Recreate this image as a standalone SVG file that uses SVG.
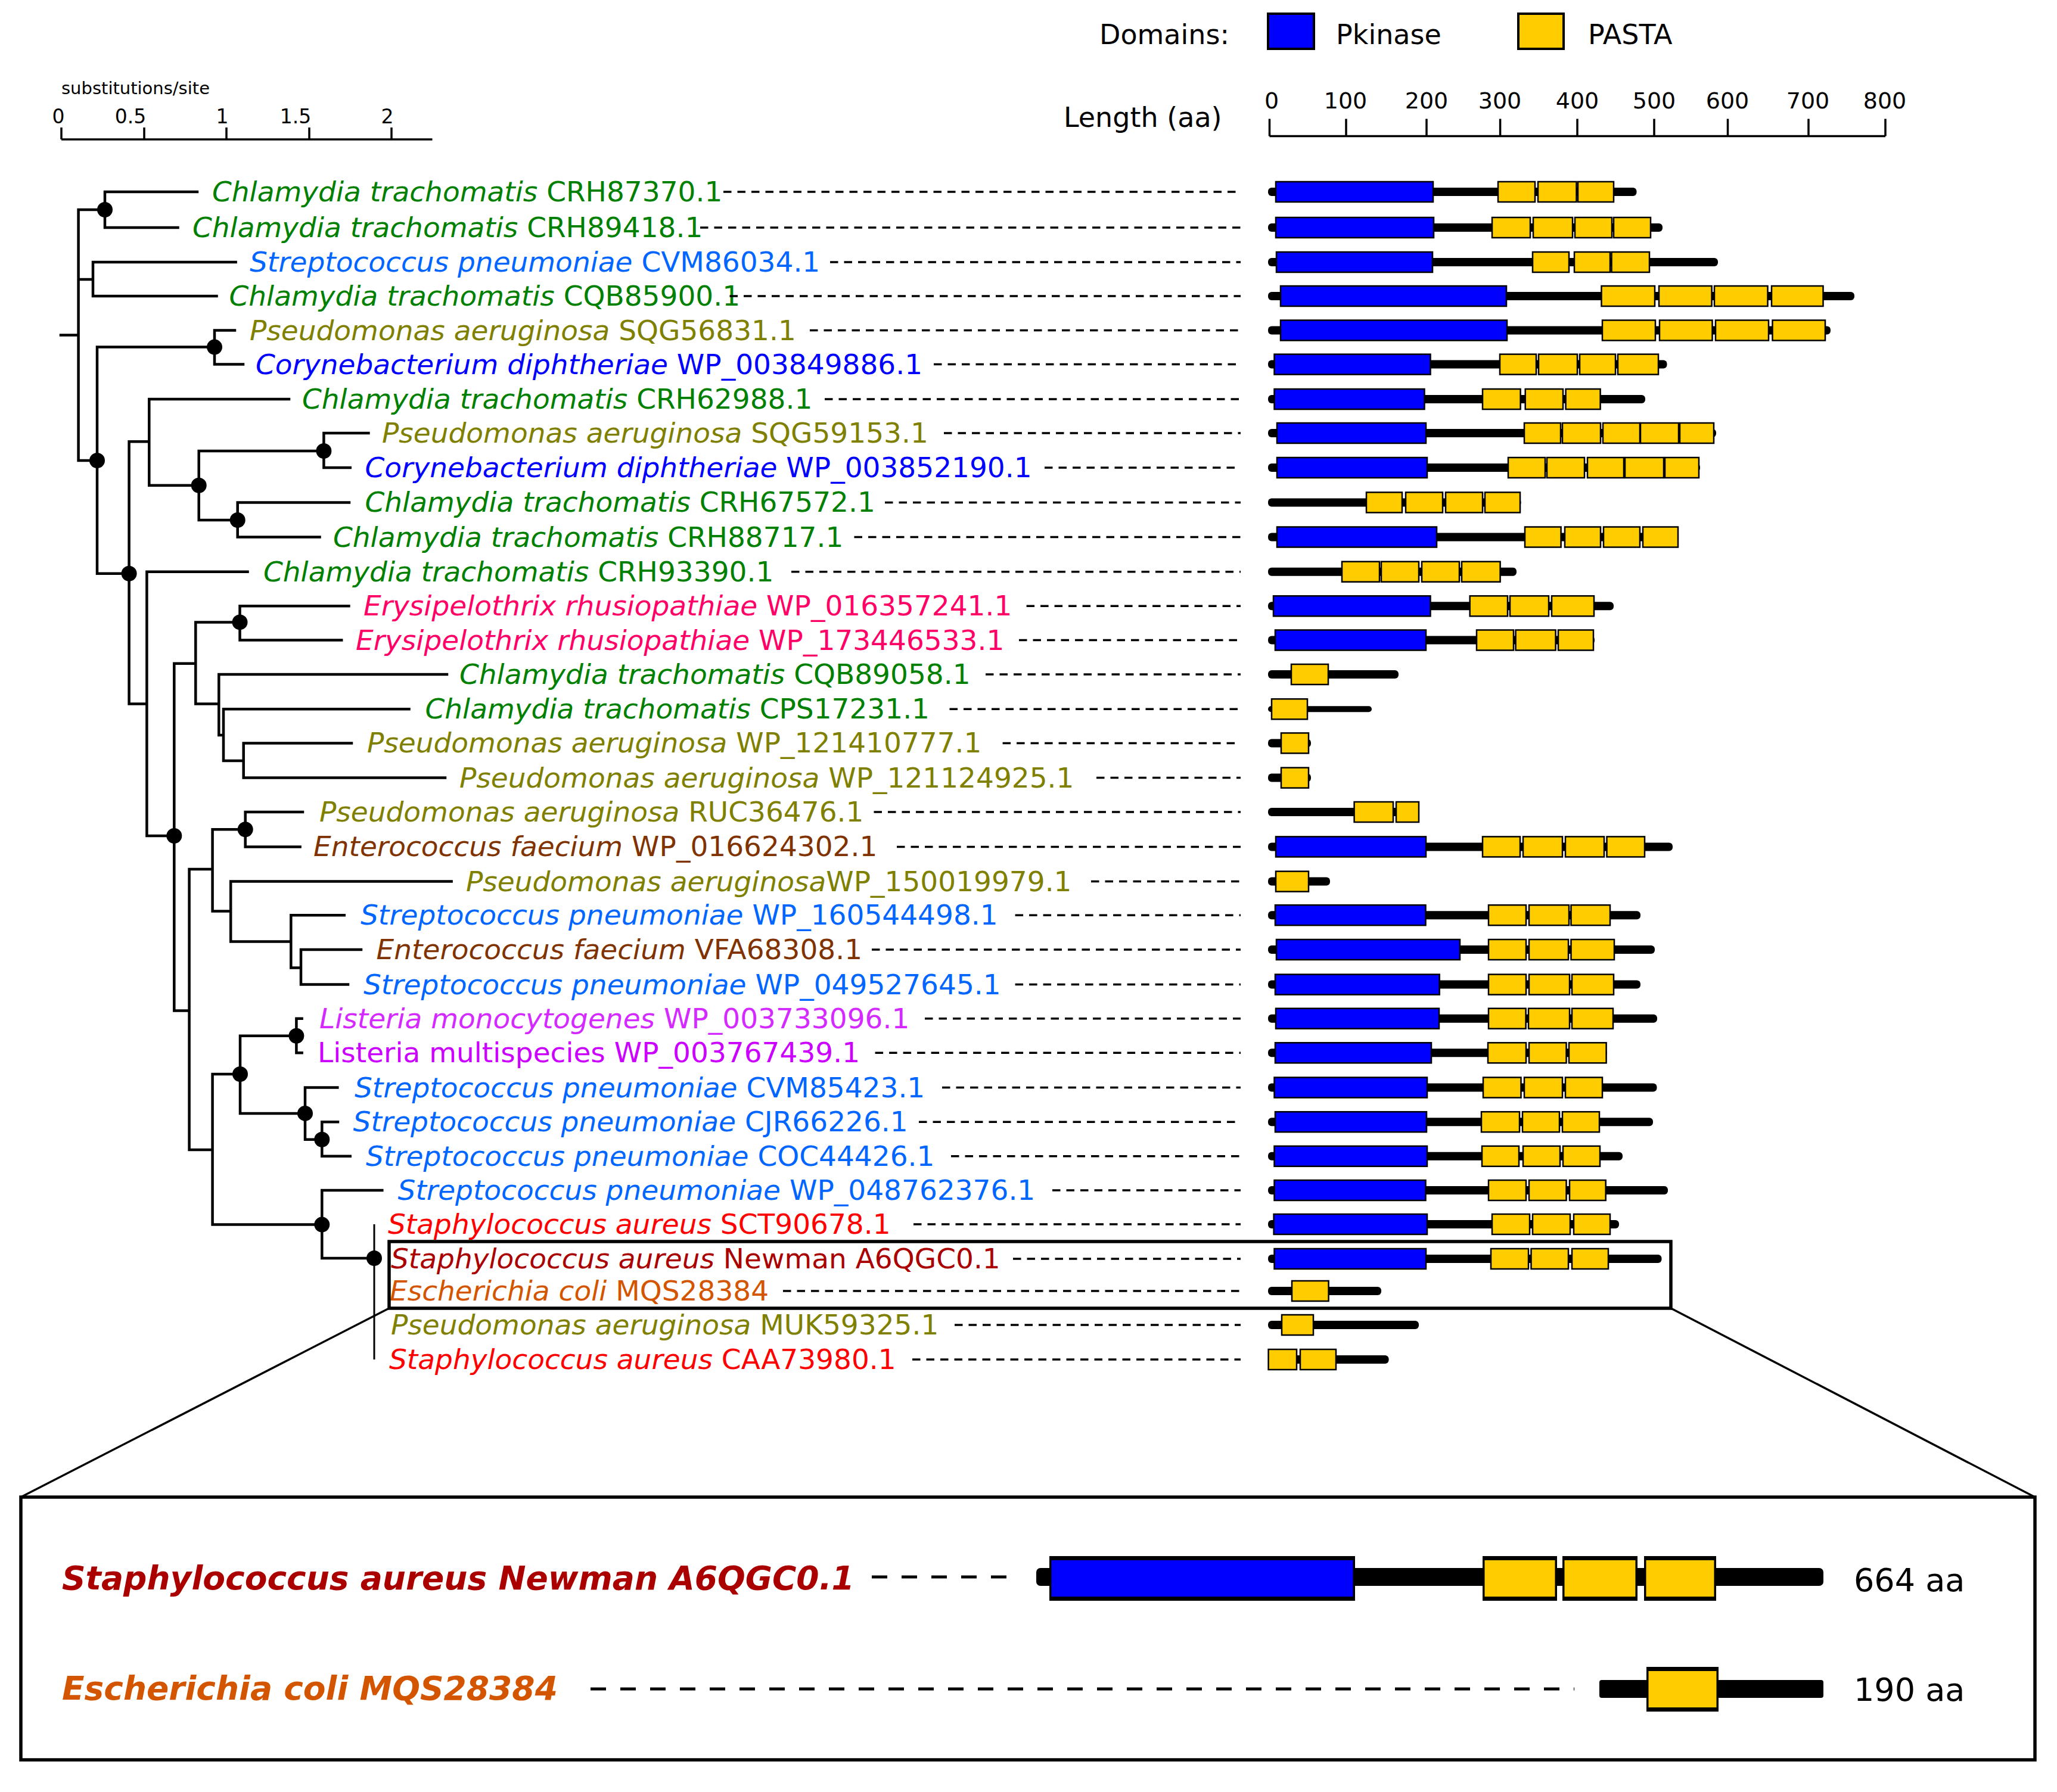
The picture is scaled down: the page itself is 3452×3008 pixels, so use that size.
<svg xmlns="http://www.w3.org/2000/svg" width="3452" height="3008" viewBox="0 0 3452 3008">
<style>
text{font-family:"DejaVu Sans","Liberation Sans",sans-serif}
.l{font-size:47px}
.i{font-style:italic}
.t{fill:none;stroke:#000;stroke-width:4.5;stroke-linecap:square}
.dot{fill:#000}
.d{stroke:#000;stroke-width:3.5;stroke-dasharray:13.5 10}
.b{fill:#000}
.k{fill:#0000ff;stroke:#000;stroke-width:2.5}
.p{fill:#ffcc00;stroke:#000;stroke-width:2.5}
.ax{fill:none;stroke:#000;stroke-width:3.5}
</style>
<rect x="0" y="0" width="3452" height="3008" fill="#fff"/>

<g id="legend">
<text x="1845" y="74" font-size="46">Domains:</text>
<rect x="2128" y="23" width="77" height="59" fill="#0000ff" stroke="#000" stroke-width="4"/>
<text x="2242" y="74" font-size="46">Pkinase</text>
<rect x="2548" y="23" width="76" height="59" fill="#ffcc00" stroke="#000" stroke-width="4"/>
<text x="2665" y="74" font-size="46">PASTA</text>
</g>

<g id="length-axis">
<text x="1785" y="213" font-size="46">Length (aa)</text>
<path class="ax" d="M2130.5 228.6H3164M2130.5 199.5V228.6M2259 199.5V228.6M2394 199.5V228.6M2517.6 199.5V228.6M2647 199.5V228.6M2776 199.5V228.6M2899.5 199.5V228.6M3035 199.5V228.6M3164 199.5V228.6"/>
<g font-size="38" text-anchor="middle">
<text x="2134" y="182">0</text><text x="2258" y="182">100</text><text x="2394" y="182">200</text><text x="2517" y="182">300</text><text x="2647" y="182">400</text><text x="2776" y="182">500</text><text x="2899" y="182">600</text><text x="3034" y="182">700</text><text x="3163" y="182">800</text>
</g>
</g>

<g id="tree-scale">
<text x="103" y="158" font-size="29">substitutions/site</text>
<path class="ax" d="M103 234H725.5M103 214V234M242 214V234M380 214V234M519 214V234M657 214V234"/>
<g font-size="33" text-anchor="middle">
<text x="98" y="207">0</text><text x="219" y="207">0.5</text><text x="373" y="207">1</text><text x="496" y="207">1.5</text><text x="650" y="207">2</text>
</g>
</g>

<g id="connectors">
<path class="t" d="M102 562.5H131.6M131.6 352V773
M131.6 352H176M176 322H176V382M176 322H331M176 382H298.5
M131.6 469H156M156 440V497M156 440H395.6M156 497H363.5
M131.6 773H163M163 582.6V962.8
M163 582.6H360M360 554.5V611.6M360 554.5H394M360 611.6H408
M163 962.8H216.6M216.6 741.3V1181.6
M216.6 741.3H250.3M250.3 670V814.8M250.3 670H485
M250.3 814.8H333.7M333.7 757V873
M333.7 757H543.4M543.4 727V785M543.4 727H618.4M543.4 785H587.7
M333.7 873H398.7M398.7 843.4V901.5M398.7 843.4H586M398.7 901.5H536.5
M216.6 1181.6H246.4M246.4 959.7V1403M246.4 959.7H415.5
M246.4 1403H292.3M292.3 1113.8V1696.4
M292.3 1113.8H328.3M328.3 1044.4V1181.6
M328.3 1044.4H402.5M402.5 1017.3V1074.5M402.5 1017.3H585.4M402.5 1074.5H573.2
M328.3 1181.6H367.3M367.3 1132V1234M367.3 1132H750
M367.3 1234H375M375 1190.3V1277M375 1190.3H686.5
M375 1277H408.7M408.7 1247.4V1305.6M408.7 1247.4H590M408.7 1305.6H747
M292.3 1696.4H317.6M317.6 1459V1930
M317.6 1459H356.6M356.6 1392.3V1529.6
M356.6 1392.3H411.7M411.7 1363V1421.4M411.7 1363H508M411.7 1421.4H503.6
M356.6 1529.6H387.2M387.2 1479.6V1580.6M387.2 1479.6H757.6
M387.2 1580.6H488.3M488.3 1536.2V1624.5M488.3 1536.2H577.8
M488.3 1624.5H505M505 1594V1652.6M505 1594H606M505 1652.6H584
M317.6 1930H356.6M356.6 1803V2055.6
M356.6 1803H403M403 1738.8V1868.9
M403 1738.8H497.4M497.4 1709.7V1767.3M497.4 1709.7H506.6M497.4 1767.3H506.6
M403 1868.9H512M512 1825.5V1912.8M512 1825.5H566.3
M512 1912.8H540.3M540.3 1883.2V1940.8M540.3 1883.2H567M540.3 1940.8H587.7
M356.6 2055.6H540.3M540.3 1998V2112M540.3 1998H641.3
M540.3 2112H628"/>
<path d="M628 2055V2282" fill="none" stroke="#000" stroke-width="3"/>
<g class="dot">
<circle cx="176" cy="352" r="13"/><circle cx="163" cy="773" r="13"/><circle cx="360" cy="582.6" r="13"/><circle cx="216.6" cy="962.8" r="13"/><circle cx="333.7" cy="814.8" r="13"/><circle cx="543.4" cy="757" r="13"/><circle cx="398.7" cy="873" r="13"/><circle cx="292.3" cy="1403" r="13"/><circle cx="402.5" cy="1044.4" r="13"/><circle cx="411.7" cy="1392.3" r="13"/><circle cx="403" cy="1803" r="13"/><circle cx="497.4" cy="1738.8" r="13"/><circle cx="512" cy="1868.9" r="13"/><circle cx="540.3" cy="1912.8" r="13"/><circle cx="540.3" cy="2055.6" r="13"/><circle cx="628" cy="2112" r="13"/>
</g>
<path d="M653 2196L35 2513M2804 2196L3415 2513" fill="none" stroke="#000" stroke-width="3.5"/>
</g>

<g id="t1"><text class="l" x="356" y="338" fill="#008000"><tspan class="i">Chlamydia trachomatis</tspan> CRH87370.1</text><line class="d" x1="1214" y1="322" x2="2082" y2="322"/><rect class="b" x="2128" y="315" width="618.5" height="14" rx="6"/><rect class="k" x="2141" y="305" width="264" height="34"/><rect class="p" x="2514" y="305" width="62" height="34"/><rect class="p" x="2581" y="305" width="64.5" height="34"/><rect class="p" x="2648" y="305" width="60" height="34"/></g>
<g id="t2"><text class="l" x="323" y="398" fill="#008000"><tspan class="i">Chlamydia trachomatis</tspan> CRH89418.1</text><line class="d" x1="1175" y1="382" x2="2082" y2="382"/><rect class="b" x="2128" y="375" width="662" height="14" rx="6"/><rect class="k" x="2141" y="365" width="265" height="34"/><rect class="p" x="2504" y="365" width="64" height="34"/><rect class="p" x="2573" y="365" width="66" height="34"/><rect class="p" x="2643" y="365" width="62" height="34"/><rect class="p" x="2708" y="365" width="62" height="34"/></g>
<g id="t3"><text class="l" x="419" y="456" fill="#0066ff"><tspan class="i">Streptococcus pneumoniae</tspan> CVM86034.1</text><line class="d" x1="1393" y1="440" x2="2082" y2="440"/><rect class="b" x="2128" y="433" width="755" height="14" rx="6"/><rect class="k" x="2142" y="423" width="262" height="34"/><rect class="p" x="2572" y="423" width="61" height="34"/><rect class="p" x="2642" y="423" width="60" height="34"/><rect class="p" x="2704.5" y="423" width="63.5" height="34"/></g>
<g id="t4"><text class="l" x="384.5" y="513" fill="#008000"><tspan class="i">Chlamydia trachomatis</tspan> CQB85900.1</text><line class="d" x1="1224.5" y1="497" x2="2082" y2="497"/><rect class="b" x="2128" y="490" width="984" height="14" rx="6"/><rect class="k" x="2149" y="480" width="379" height="34"/><rect class="p" x="2687.5" y="480" width="89.5" height="34"/><rect class="p" x="2784" y="480" width="88.6" height="34"/><rect class="p" x="2877" y="480" width="89.5" height="34"/><rect class="p" x="2973" y="480" width="86.5" height="34"/></g>
<g id="t5"><text class="l" x="419" y="570.5" fill="#808000"><tspan class="i">Pseudomonas aeruginosa</tspan> SQG56831.1</text><line class="d" x1="1359" y1="554.5" x2="2082" y2="554.5"/><rect class="b" x="2128" y="547.5" width="944" height="14" rx="6"/><rect class="k" x="2149" y="537.5" width="380" height="34"/><rect class="p" x="2689" y="537.5" width="89" height="34"/><rect class="p" x="2785" y="537.5" width="88.5" height="34"/><rect class="p" x="2879" y="537.5" width="89" height="34"/><rect class="p" x="2974.5" y="537.5" width="88.5" height="34"/></g>
<g id="t6"><text class="l" x="429" y="627.6" fill="#0000ff"><tspan class="i">Corynebacterium diphtheriae</tspan> WP_003849886.1</text><line class="d" x1="1567" y1="611.6" x2="2082" y2="611.6"/><rect class="b" x="2128" y="604.6" width="669.5" height="14" rx="6"/><rect class="k" x="2138.5" y="594.6" width="262" height="34"/><rect class="p" x="2517" y="594.6" width="61" height="34"/><rect class="p" x="2582" y="594.6" width="65" height="34"/><rect class="p" x="2651" y="594.6" width="60" height="34"/><rect class="p" x="2715" y="594.6" width="68" height="34"/></g>
<g id="t7"><text class="l" x="507" y="686" fill="#008000"><tspan class="i">Chlamydia trachomatis</tspan> CRH62988.1</text><line class="d" x1="1384" y1="670" x2="2082" y2="670"/><rect class="b" x="2128" y="663" width="633" height="14" rx="6"/><rect class="k" x="2138.5" y="653" width="252" height="34"/><rect class="p" x="2488" y="653" width="63.6" height="34"/><rect class="p" x="2559.7" y="653" width="63.3" height="34"/><rect class="p" x="2627.6" y="653" width="58" height="34"/></g>
<g id="t8"><text class="l" x="641" y="743" fill="#808000"><tspan class="i">Pseudomonas aeruginosa</tspan> SQG59153.1</text><line class="d" x1="1584" y1="727" x2="2082" y2="727"/><rect class="b" x="2128" y="720" width="752" height="14" rx="6"/><rect class="k" x="2143" y="710" width="250" height="34"/><rect class="p" x="2558" y="710" width="61" height="34"/><rect class="p" x="2622" y="710" width="64" height="34"/><rect class="p" x="2690" y="710" width="62" height="34"/><rect class="p" x="2753" y="710" width="64" height="34"/><rect class="p" x="2819" y="710" width="57" height="34"/></g>
<g id="t9"><text class="l" x="612.5" y="801" fill="#0000ff"><tspan class="i">Corynebacterium diphtheriae</tspan> WP_003852190.1</text><line class="d" x1="1753" y1="785" x2="2082" y2="785"/><rect class="b" x="2128" y="778" width="725" height="14" rx="6"/><rect class="k" x="2143" y="768" width="252" height="34"/><rect class="p" x="2531" y="768" width="62" height="34"/><rect class="p" x="2596" y="768" width="63" height="34"/><rect class="p" x="2664" y="768" width="61" height="34"/><rect class="p" x="2727" y="768" width="65" height="34"/><rect class="p" x="2794" y="768" width="57" height="34"/></g>
<g id="t10"><text class="l" x="612.5" y="859.4" fill="#008000"><tspan class="i">Chlamydia trachomatis</tspan> CRH67572.1</text><line class="d" x1="1485" y1="843.4" x2="2082" y2="843.4"/><rect class="b" x="2128" y="836.4" width="424.5" height="14" rx="6"/><rect class="p" x="2293" y="826.4" width="60" height="34"/><rect class="p" x="2359" y="826.4" width="62" height="34"/><rect class="p" x="2426" y="826.4" width="62" height="34"/><rect class="p" x="2492" y="826.4" width="59" height="34"/></g>
<g id="t11"><text class="l" x="559" y="917.5" fill="#008000"><tspan class="i">Chlamydia trachomatis</tspan> CRH88717.1</text><line class="d" x1="1433.5" y1="901.5" x2="2082" y2="901.5"/><rect class="b" x="2128" y="894.5" width="689" height="14" rx="6"/><rect class="k" x="2143" y="884.5" width="268" height="34"/><rect class="p" x="2559" y="884.5" width="60.6" height="34"/><rect class="p" x="2626" y="884.5" width="60" height="34"/><rect class="p" x="2691" y="884.5" width="61" height="34"/><rect class="p" x="2757" y="884.5" width="59" height="34"/></g>
<g id="t12"><text class="l" x="442" y="975.7" fill="#008000"><tspan class="i">Chlamydia trachomatis</tspan> CRH93390.1</text><line class="d" x1="1328" y1="959.7" x2="2082" y2="959.7"/><rect class="b" x="2128" y="952.7" width="417" height="14" rx="6"/><rect class="p" x="2252" y="942.7" width="63" height="34"/><rect class="p" x="2318" y="942.7" width="63" height="34"/><rect class="p" x="2386" y="942.7" width="63" height="34"/><rect class="p" x="2453" y="942.7" width="64.6" height="34"/></g>
<g id="t13"><text class="l" x="610" y="1033.3" fill="#ff0066"><tspan class="i">Erysipelothrix rhusiopathiae</tspan> WP_016357241.1</text><line class="d" x1="1722.6" y1="1017.3" x2="2082" y2="1017.3"/><rect class="b" x="2128" y="1010.3" width="580" height="14" rx="6"/><rect class="k" x="2137" y="1000.3" width="263.5" height="34"/><rect class="p" x="2466.7" y="1000.3" width="63.3" height="34"/><rect class="p" x="2534" y="1000.3" width="65" height="34"/><rect class="p" x="2604" y="1000.3" width="71" height="34"/></g>
<g id="t14"><text class="l" x="597" y="1090.5" fill="#ff0066"><tspan class="i">Erysipelothrix rhusiopathiae</tspan> WP_173446533.1</text><line class="d" x1="1710" y1="1074.5" x2="2082" y2="1074.5"/><rect class="b" x="2128" y="1067.5" width="548" height="14" rx="6"/><rect class="k" x="2140" y="1057.5" width="253" height="34"/><rect class="p" x="2478" y="1057.5" width="62" height="34"/><rect class="p" x="2543.6" y="1057.5" width="67" height="34"/><rect class="p" x="2615" y="1057.5" width="59" height="34"/></g>
<g id="t15"><text class="l" x="771" y="1148" fill="#008000"><tspan class="i">Chlamydia trachomatis</tspan> CQB89058.1</text><line class="d" x1="1654" y1="1132" x2="2082" y2="1132"/><rect class="b" x="2128" y="1125" width="219" height="14" rx="6"/><rect class="p" x="2167" y="1115" width="62" height="34"/></g>
<g id="t16"><text class="l" x="713.5" y="1206.3" fill="#008000"><tspan class="i">Chlamydia trachomatis</tspan> CPS17231.1</text><line class="d" x1="1593.5" y1="1190.3" x2="2082" y2="1190.3"/><rect class="b" x="2128" y="1185.3" width="174" height="10" rx="5"/><rect class="p" x="2134" y="1173.3" width="60" height="34"/></g>
<g id="t17"><text class="l" x="616" y="1263.4" fill="#808000"><tspan class="i">Pseudomonas aeruginosa</tspan> WP_121410777.1</text><line class="d" x1="1682.6" y1="1247.4" x2="2082" y2="1247.4"/><rect class="b" x="2128" y="1240.4" width="72" height="14" rx="6"/><rect class="p" x="2150" y="1230.4" width="46" height="34"/></g>
<g id="t18"><text class="l" x="771" y="1321.6" fill="#808000"><tspan class="i">Pseudomonas aeruginosa</tspan> WP_121124925.1</text><line class="d" x1="1840" y1="1305.6" x2="2082" y2="1305.6"/><rect class="b" x="2128" y="1298.6" width="72" height="14" rx="6"/><rect class="p" x="2150" y="1288.6" width="46" height="34"/></g>
<g id="t19"><text class="l" x="536" y="1379" fill="#808000"><tspan class="i">Pseudomonas aeruginosa</tspan> RUC36476.1</text><line class="d" x1="1466.5" y1="1363" x2="2082" y2="1363"/><rect class="b" x="2128" y="1356" width="253" height="14" rx="6"/><rect class="p" x="2272.6" y="1346" width="65.4" height="34"/><rect class="p" x="2343" y="1346" width="38" height="34"/></g>
<g id="t20"><text class="l" x="526" y="1437.4" fill="#803300"><tspan class="i">Enterococcus faecium</tspan> WP_016624302.1</text><line class="d" x1="1505" y1="1421.4" x2="2082" y2="1421.4"/><rect class="b" x="2128" y="1414.4" width="679" height="14" rx="6"/><rect class="k" x="2141" y="1404.4" width="252" height="34"/><rect class="p" x="2488" y="1404.4" width="63" height="34"/><rect class="p" x="2556" y="1404.4" width="66" height="34"/><rect class="p" x="2627" y="1404.4" width="65" height="34"/><rect class="p" x="2696.5" y="1404.4" width="63.5" height="34"/></g>
<g id="t21"><text class="l" x="782" y="1495.6" fill="#808000"><tspan class="i">Pseudomonas aeruginosa</tspan>WP_150019979.1</text><line class="d" x1="1831" y1="1479.6" x2="2082" y2="1479.6"/><rect class="b" x="2128" y="1472.6" width="104" height="14" rx="6"/><rect class="p" x="2141" y="1462.6" width="55" height="34"/></g>
<g id="t22"><text class="l" x="605" y="1552.2" fill="#0066ff"><tspan class="i">Streptococcus pneumoniae</tspan> WP_160544498.1</text><line class="d" x1="1703.6" y1="1536.2" x2="2082" y2="1536.2"/><rect class="b" x="2128" y="1529.2" width="625" height="14" rx="6"/><rect class="k" x="2140" y="1519.2" width="252.5" height="34"/><rect class="p" x="2498" y="1519.2" width="63" height="34"/><rect class="p" x="2566" y="1519.2" width="67" height="34"/><rect class="p" x="2636.5" y="1519.2" width="65.5" height="34"/></g>
<g id="t23"><text class="l" x="631.6" y="1610" fill="#803300"><tspan class="i">Enterococcus faecium</tspan> VFA68308.1</text><line class="d" x1="1463" y1="1594" x2="2082" y2="1594"/><rect class="b" x="2128" y="1587" width="649" height="14" rx="6"/><rect class="k" x="2142" y="1577" width="308" height="34"/><rect class="p" x="2498" y="1577" width="63" height="34"/><rect class="p" x="2566" y="1577" width="66" height="34"/><rect class="p" x="2636.5" y="1577" width="72.5" height="34"/></g>
<g id="t24"><text class="l" x="610" y="1668.6" fill="#0066ff"><tspan class="i">Streptococcus pneumoniae</tspan> WP_049527645.1</text><line class="d" x1="1703.6" y1="1652.6" x2="2082" y2="1652.6"/><rect class="b" x="2128" y="1645.6" width="625" height="14" rx="6"/><rect class="k" x="2140" y="1635.6" width="275.7" height="34"/><rect class="p" x="2498" y="1635.6" width="63" height="34"/><rect class="p" x="2566" y="1635.6" width="68" height="34"/><rect class="p" x="2638" y="1635.6" width="70" height="34"/></g>
<g id="t25"><text class="l" x="536" y="1725.7" fill="#d42aff"><tspan class="i">Listeria monocytogenes</tspan> WP_003733096.1</text><line class="d" x1="1552" y1="1709.7" x2="2082" y2="1709.7"/><rect class="b" x="2128" y="1702.7" width="653" height="14" rx="6"/><rect class="k" x="2141" y="1692.7" width="274" height="34"/><rect class="p" x="2498" y="1692.7" width="62.6" height="34"/><rect class="p" x="2565" y="1692.7" width="69" height="34"/><rect class="p" x="2638" y="1692.7" width="69" height="34"/></g>
<g id="t26"><text class="l" x="533" y="1783.3" fill="#cc00ff">Listeria multispecies WP_003767439.1</text><line class="d" x1="1468.6" y1="1767.3" x2="2082" y2="1767.3"/><rect class="b" x="2128" y="1760.3" width="568.5" height="14" rx="6"/><rect class="k" x="2140" y="1750.3" width="262" height="34"/><rect class="p" x="2497" y="1750.3" width="64" height="34"/><rect class="p" x="2566" y="1750.3" width="62.5" height="34"/><rect class="p" x="2633" y="1750.3" width="62.6" height="34"/></g>
<g id="t27"><text class="l" x="595" y="1841.5" fill="#0066ff"><tspan class="i">Streptococcus pneumoniae</tspan> CVM85423.1</text><line class="d" x1="1581" y1="1825.5" x2="2082" y2="1825.5"/><rect class="b" x="2128" y="1818.5" width="652.5" height="14" rx="6"/><rect class="k" x="2138.5" y="1808.5" width="256.5" height="34"/><rect class="p" x="2489" y="1808.5" width="63.5" height="34"/><rect class="p" x="2558" y="1808.5" width="64" height="34"/><rect class="p" x="2627" y="1808.5" width="62" height="34"/></g>
<g id="t28"><text class="l" x="592.6" y="1899.2" fill="#0066ff"><tspan class="i">Streptococcus pneumoniae</tspan> CJR66226.1</text><line class="d" x1="1542" y1="1883.2" x2="2082" y2="1883.2"/><rect class="b" x="2128" y="1876.2" width="646" height="14" rx="6"/><rect class="k" x="2140" y="1866.2" width="254" height="34"/><rect class="p" x="2486" y="1866.2" width="64" height="34"/><rect class="p" x="2555" y="1866.2" width="62" height="34"/><rect class="p" x="2622" y="1866.2" width="62" height="34"/></g>
<g id="t29"><text class="l" x="614" y="1956.8" fill="#0066ff"><tspan class="i">Streptococcus pneumoniae</tspan> COC44426.1</text><line class="d" x1="1596" y1="1940.8" x2="2082" y2="1940.8"/><rect class="b" x="2128" y="1933.8" width="595" height="14" rx="6"/><rect class="k" x="2138.5" y="1923.8" width="256.5" height="34"/><rect class="p" x="2487" y="1923.8" width="62" height="34"/><rect class="p" x="2556" y="1923.8" width="62" height="34"/><rect class="p" x="2623" y="1923.8" width="62" height="34"/></g>
<g id="t30"><text class="l" x="667.6" y="2014" fill="#0066ff"><tspan class="i">Streptococcus pneumoniae</tspan> WP_048762376.1</text><line class="d" x1="1766" y1="1998" x2="2082" y2="1998"/><rect class="b" x="2128" y="1991" width="671" height="14" rx="6"/><rect class="k" x="2138.5" y="1981" width="254" height="34"/><rect class="p" x="2498" y="1981" width="63" height="34"/><rect class="p" x="2566" y="1981" width="62.5" height="34"/><rect class="p" x="2634" y="1981" width="60.7" height="34"/></g>
<g id="t31"><text class="l" x="651" y="2071" fill="#ff0000"><tspan class="i">Staphylococcus aureus</tspan> SCT90678.1</text><line class="d" x1="1533" y1="2055" x2="2082" y2="2055"/><rect class="b" x="2128" y="2048" width="589" height="14" rx="6"/><rect class="k" x="2137.6" y="2038" width="257.4" height="34"/><rect class="p" x="2504" y="2038" width="63" height="34"/><rect class="p" x="2572" y="2038" width="63" height="34"/><rect class="p" x="2641" y="2038" width="61" height="34"/></g>
<g id="t32"><text class="l" x="656" y="2129" fill="#aa0000"><tspan class="i">Staphylococcus aureus</tspan> Newman A6QGC0.1</text><line class="d" x1="1700" y1="2113" x2="2082" y2="2113"/><rect class="b" x="2128" y="2106" width="660.5" height="14" rx="6"/><rect class="k" x="2138.5" y="2096" width="254.5" height="34"/><rect class="p" x="2502" y="2096" width="63" height="34"/><rect class="p" x="2569.5" y="2096" width="62.5" height="34"/><rect class="p" x="2638" y="2096" width="61" height="34"/></g>
<g id="t33"><text class="l" x="654" y="2183" fill="#d45500"><tspan class="i">Escherichia coli</tspan> MQS28384</text><line class="d" x1="1314" y1="2167" x2="2082" y2="2167"/><rect class="b" x="2128" y="2160" width="190" height="14" rx="6"/><rect class="p" x="2168" y="2150" width="61.6" height="34"/></g>
<g id="t34"><text class="l" x="656" y="2240" fill="#808000"><tspan class="i">Pseudomonas aeruginosa</tspan> MUK59325.1</text><line class="d" x1="1602" y1="2224" x2="2082" y2="2224"/><rect class="b" x="2128" y="2217" width="253" height="14" rx="6"/><rect class="p" x="2151" y="2207" width="53" height="34"/></g>
<g id="t35"><text class="l" x="653" y="2298" fill="#ff0000"><tspan class="i">Staphylococcus aureus</tspan> CAA73980.1</text><line class="d" x1="1531" y1="2282" x2="2082" y2="2282"/><rect class="b" x="2128" y="2275" width="202.6" height="14" rx="6"/><rect class="p" x="2128.6" y="2265" width="47.4" height="34"/><rect class="p" x="2182" y="2265" width="60" height="34"/></g>

<g id="highlight">
<rect x="653" y="2084" width="2151" height="112" fill="none" stroke="#000" stroke-width="5.5"/>
</g>

<g id="zoom-panel">
<rect x="35" y="2513" width="3380" height="441" fill="none" stroke="#000" stroke-width="5.5"/>
<g id="z-newman">
<text x="104" y="2668" font-size="55" font-weight="bold" font-style="italic" fill="#aa0000">Staphylococcus aureus Newman A6QGC0.1</text>
<line x1="1463" y1="2647" x2="1690" y2="2647" stroke="#000" stroke-width="5" stroke-dasharray="26 24"/>
<rect x="1739" y="2632" width="1321" height="30" rx="7" fill="#000"/>
<rect x="1761" y="2612" width="513" height="75" fill="#000"/><rect x="1764.5" y="2619" width="506" height="61" fill="#0000ff"/>
<rect x="2488" y="2612" width="125" height="75" fill="#000"/><rect x="2491.5" y="2619" width="118" height="61" fill="#ffcc00"/>
<rect x="2622" y="2612" width="126" height="75" fill="#000"/><rect x="2625.5" y="2619" width="119" height="61" fill="#ffcc00"/>
<rect x="2759" y="2612" width="121" height="75" fill="#000"/><rect x="2762.5" y="2619" width="114" height="61" fill="#ffcc00"/>
<text x="3111" y="2671" font-size="54">664 aa</text>
</g>
<g id="z-ecoli">
<text x="104" y="2853" font-size="55" font-weight="bold" font-style="italic" fill="#d45500">Escherichia coli MQS28384</text>
<line x1="991" y1="2835" x2="2642" y2="2835" stroke="#000" stroke-width="5" stroke-dasharray="26 24"/>
<rect x="2684" y="2820" width="376" height="30" rx="4" fill="#000"/>
<rect x="2763" y="2798" width="121" height="75" fill="#000"/><rect x="2766.5" y="2805" width="114" height="61" fill="#ffcc00"/>
<text x="3111" y="2855" font-size="54">190 aa</text>
</g>
</g>
</svg>
